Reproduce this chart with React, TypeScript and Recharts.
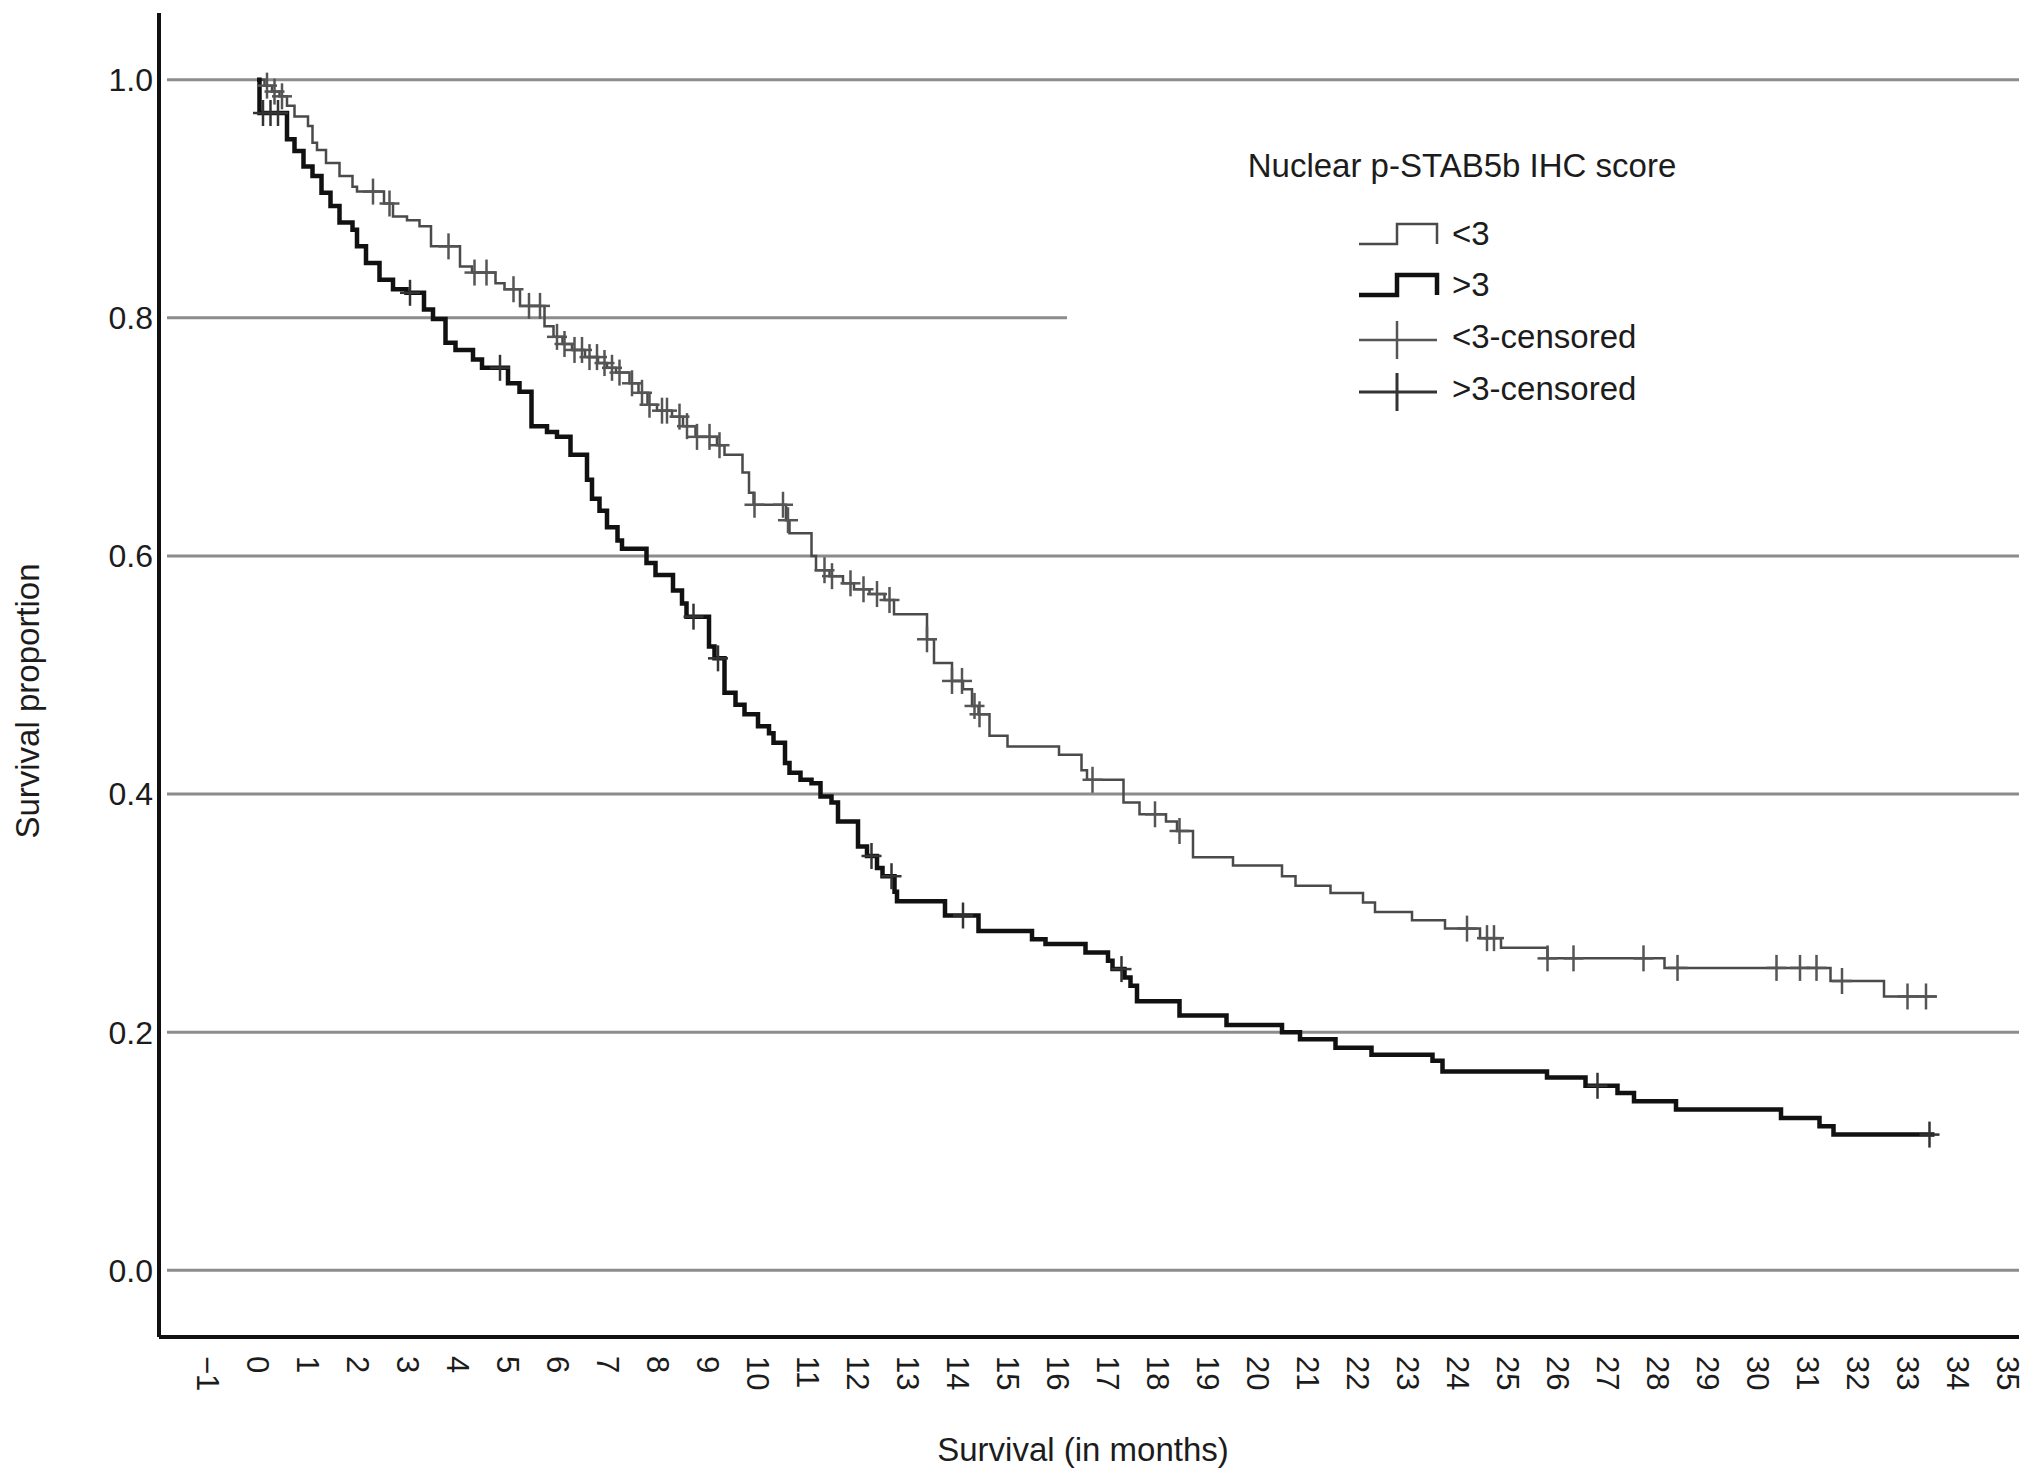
import React from "react";
import {
  ComposedChart,
  Line,
  Scatter,
  XAxis,
  YAxis,
  ReferenceLine,
  Legend,
  Label,
} from "recharts";

// Kaplan-Meier steps, score <3 (thin grey curve)
const lowTimes = [
  0, 0.15, 0.3, 0.45, 0.6, 0.75, 1.02, 1.11, 1.2, 1.38, 1.65, 1.91, 2.0, 2.54, 2.72, 3.0, 3.25, 3.48,
  4.06, 4.3, 4.77, 4.95, 5.26, 5.75, 5.93, 6.11, 6.3, 6.56, 6.82, 7.0, 7.18, 7.45, 7.63, 7.81, 8.0,
  8.3, 8.52, 8.77, 9.2, 9.35, 9.71, 9.84, 9.93, 10.58, 10.65, 11.09, 11.18, 11.45, 11.72, 11.94,
  12.25, 12.55, 12.74, 13.4, 13.54, 13.9, 14.12, 14.3, 14.43, 14.65, 15.01, 16.04, 16.49, 16.6,
  17.33, 17.65, 18.18, 18.4, 18.72, 19.52, 20.5, 20.77, 21.47, 22.12, 22.36, 23.1, 23.76, 24.46,
  24.88, 25.81, 28.15, 31.47, 32.54, 33.6,
];
const lowSurv = [
  1.0, 0.995, 0.99, 0.986, 0.978, 0.969, 0.961, 0.947, 0.941, 0.93, 0.919, 0.91, 0.906, 0.896, 0.885,
  0.882, 0.877, 0.86, 0.843, 0.838, 0.829, 0.824, 0.81, 0.793, 0.784, 0.778, 0.773, 0.767, 0.762,
  0.758, 0.754, 0.745, 0.737, 0.727, 0.722, 0.717, 0.709, 0.7, 0.693, 0.685, 0.67, 0.653, 0.643, 0.63,
  0.619, 0.6, 0.588, 0.583, 0.577, 0.572, 0.568, 0.563, 0.551, 0.53, 0.51, 0.495, 0.488, 0.474, 0.467,
  0.449, 0.44, 0.433, 0.42, 0.412, 0.393, 0.383, 0.377, 0.369, 0.347, 0.34, 0.331, 0.323, 0.317,
  0.309, 0.301, 0.294, 0.287, 0.279, 0.271, 0.262, 0.254, 0.243, 0.23, 0.23,
];
const lowCensored = [
  0.2, 0.35, 0.5, 2.32, 2.65, 3.83, 4.35, 4.59, 5.13, 5.44, 5.66, 6.0, 6.15, 6.35, 6.5, 6.65, 6.8,
  6.95, 7.1, 7.25, 7.5, 7.7, 7.85, 8.1, 8.2, 8.45, 8.6, 8.8, 9.05, 9.25, 9.95, 10.52, 10.62, 11.35,
  11.5, 11.87, 12.13, 12.4, 12.65, 13.4, 13.9, 14.1, 14.35, 14.45, 16.71, 17.96, 18.45, 24.2, 24.6,
  24.74, 25.81, 26.33, 27.73, 28.41, 30.39, 30.86, 31.19, 31.7, 33.01, 33.38,
];

// Kaplan-Meier steps, score >3 (thick black curve)
const highTimes = [
  0, 0.05, 0.6, 0.75, 0.93, 1.11, 1.29, 1.47, 1.65, 1.91, 2.0, 2.18, 2.45, 2.72, 2.99, 3.34, 3.52,
  3.77, 3.97, 4.32, 4.5, 5.02, 5.25, 5.49, 5.8, 6.0, 6.27, 6.6, 6.7, 6.85, 7.0, 7.21, 7.3, 7.79,
  7.97, 8.32, 8.5, 8.59, 9.04, 9.15, 9.35, 9.57, 9.75, 10.02, 10.24, 10.33, 10.56, 10.65, 10.87,
  11.09, 11.27, 11.49, 11.62, 12.02, 12.2, 12.4, 12.51, 12.75, 12.8, 13.76, 14.43, 15.5, 15.77,
  16.57, 17.02, 17.11, 17.35, 17.47, 17.6, 18.45, 19.39, 20.5, 20.86, 21.57, 22.29, 23.51, 23.71,
  25.8, 26.57, 27.21, 27.54, 28.38, 30.48, 31.25, 31.53, 33.55,
];
const highSurv = [
  1.0, 0.972, 0.95, 0.94, 0.927, 0.919, 0.905, 0.894, 0.88, 0.874, 0.86, 0.846, 0.832, 0.824, 0.821,
  0.807, 0.799, 0.779, 0.773, 0.765, 0.758, 0.745, 0.738, 0.709, 0.704, 0.7, 0.685, 0.664, 0.648,
  0.638, 0.624, 0.613, 0.606, 0.594, 0.584, 0.571, 0.56, 0.549, 0.524, 0.514, 0.485, 0.475, 0.467,
  0.457, 0.451, 0.443, 0.426, 0.418, 0.412, 0.409, 0.398, 0.393, 0.377, 0.356, 0.348, 0.338, 0.331,
  0.318, 0.31, 0.298, 0.285, 0.278, 0.274, 0.267, 0.26, 0.253, 0.246, 0.239, 0.226, 0.214, 0.206,
  0.2, 0.194, 0.187, 0.181, 0.176, 0.167, 0.162, 0.155, 0.149, 0.142, 0.135, 0.128, 0.121, 0.114,
  0.114,
];
const highCensored = [0.12, 0.27, 0.42, 3.06, 4.86, 8.73, 9.22, 12.29, 12.69, 14.12, 17.29, 26.81, 33.45];

const xTicks = [
  -1, 0, 1, 2, 3, 4, 5, 6, 7, 8, 9, 10, 11, 12, 13, 14, 15, 16, 17, 18, 19, 20, 21, 22, 23, 24, 25,
  26, 27, 28, 29, 30, 31, 32, 33, 34, 35,
];
const yTicks = [0, 0.2, 0.4, 0.6, 0.8, 1.0];

const legendTitle = "Nuclear p-STAB5b IHC score";
const legendItems = [
  { label: "<3", kind: "step", color: "#4a4a4a", width: 2.5 },
  { label: ">3", kind: "step", color: "#111", width: 4.5 },
  { label: "<3-censored", kind: "censor", color: "#555", width: 2.5 },
  { label: ">3-censored", kind: "censor", color: "#333", width: 3 },
];

const FONT = '"Liberation Sans", Arial, Helvetica, sans-serif';
const TEXT = "#1c1c1c";

const toSteps = (times: number[], surv: number[]) => times.map((t, i) => ({ t, s: surv[i] }));
const levelAt = (times: number[], surv: number[], t: number) => {
  let v = surv[0];
  for (let i = 0; i < times.length; i++) if (times[i] <= t) v = surv[i];
  return v;
};
const toCensor = (cens: number[], times: number[], surv: number[]) =>
  cens.map((t) => ({ t, s: levelAt(times, surv, t) }));

const lowData = toSteps(lowTimes, lowSurv);
const highData = toSteps(highTimes, highSurv);
const lowCensorData = toCensor(lowCensored, lowTimes, lowSurv);
const highCensorData = toCensor(highCensored, highTimes, highSurv);

const censorShape = (color: string, w: number) => (props: any) => {
  const { cx, cy } = props;
  return (
    <g stroke={color} strokeWidth={w}>
      <line x1={cx} y1={cy - 13} x2={cx} y2={cy + 13} />
      <line x1={cx - 10} y1={cy} x2={cx + 10} y2={cy} />
    </g>
  );
};

const XTick = (props: any) => {
  const { x, y, payload } = props;
  const v = payload.value;
  const txt = v < 0 ? "\u2212" + Math.abs(v) : String(v);
  return (
    <text
      x={x}
      y={y}
      transform={`rotate(90 ${x} ${y})`}
      textAnchor="start"
      dominantBaseline="central"
      fontSize={31}
      fontFamily={FONT}
      fill={TEXT}
    >
      {txt}
    </text>
  );
};

const KmLegend = () => {
  const rowY = [118, 169, 221, 273];
  return (
    <div style={{ width: 965, height: 300, background: "#fff" }}>
      <svg width={965} height={300}>
        <text x={395} y={50} textAnchor="middle" dominantBaseline="central" fontSize={33} fontFamily={FONT} fill={TEXT}>
          {legendTitle}
        </text>
        {legendItems.map((it, i) => {
          const y = rowY[i];
          return (
            <g key={it.label}>
              {it.kind === "step" ? (
                <polyline
                  points={`292,${y + 11} 330,${y + 11} 330,${y - 9} 370,${y - 9} 370,${y + 11}`}
                  fill="none"
                  stroke={it.color}
                  strokeWidth={it.width}
                />
              ) : (
                <g stroke={it.color} strokeWidth={it.width}>
                  <line x1={292} y1={y + 4} x2={370} y2={y + 4} />
                  <line x1={330} y1={y - 15} x2={330} y2={y + 23} />
                </g>
              )}
              <text x={385} y={y} dominantBaseline="central" fontSize={33} fontFamily={FONT} fill={TEXT}>
                {it.label}
              </text>
            </g>
          );
        })}
      </svg>
    </div>
  );
};

export default function App() {
  return (
    <div style={{ position: "absolute", left: 0, top: 0, background: "#fff" }}>
      <ComposedChart width={2032} height={1481} margin={{ top: 13, right: 13, bottom: 0, left: 0 }}>
        <XAxis
          type="number"
          dataKey="t"
          domain={[-1.96, 35.24]}
          ticks={xTicks}
          interval={0}
          allowDataOverflow
          height={144}
          tickLine={false}
          tickSize={0}
          tickMargin={19}
          axisLine={{ stroke: "#111", strokeWidth: 4 }}
          tick={<XTick />}
        >
          <Label
            content={() => (
              <text x={1083} y={1449} textAnchor="middle" dominantBaseline="central" fontSize={33} fontFamily={FONT} fill={TEXT}>
                Survival (in months)
              </text>
            )}
          />
        </XAxis>
        <YAxis
          type="number"
          domain={[-0.056, 1.056]}
          ticks={yTicks}
          allowDataOverflow
          width={159}
          tickLine={false}
          tickSize={0}
          tickMargin={6}
          axisLine={{ stroke: "#111", strokeWidth: 4 }}
          tickFormatter={(v: number) => v.toFixed(1)}
          tick={{ fontSize: 32, fontFamily: FONT, fill: TEXT }}
        >
          <Label
            content={() => (
              <text
                x={27}
                y={701}
                transform="rotate(-90 27 701)"
                textAnchor="middle"
                dominantBaseline="central"
                fontSize={33}
                fontFamily={FONT}
                fill={TEXT}
              >
                Survival proportion
              </text>
            )}
          />
        </YAxis>
        {yTicks.map((v) => (
          <ReferenceLine
            key={v}
            segment={[
              { x: -1.8, y: v },
              { x: 35.24, y: v },
            ]}
            stroke="#8c8c8c"
            strokeWidth={3}
          />
        ))}
        <Line
          data={lowData}
          dataKey="s"
          type="stepAfter"
          stroke="#4a4a4a"
          strokeWidth={2.5}
          dot={false}
          activeDot={false}
          isAnimationActive={false}
        />
        <Line
          data={highData}
          dataKey="s"
          type="stepAfter"
          stroke="#111"
          strokeWidth={4.5}
          dot={false}
          activeDot={false}
          isAnimationActive={false}
        />
        <Scatter data={lowCensorData} dataKey="s" shape={censorShape("#555", 2.5)} isAnimationActive={false} />
        <Scatter data={highCensorData} dataKey="s" shape={censorShape("#333", 2.5)} isAnimationActive={false} />
        <Legend
          content={<KmLegend />}
          verticalAlign="middle"
          align="center"
          layout="horizontal"
          wrapperStyle={{ left: 1067, top: 115, width: 965, height: 300 }}
        />
      </ComposedChart>
    </div>
  );
}
